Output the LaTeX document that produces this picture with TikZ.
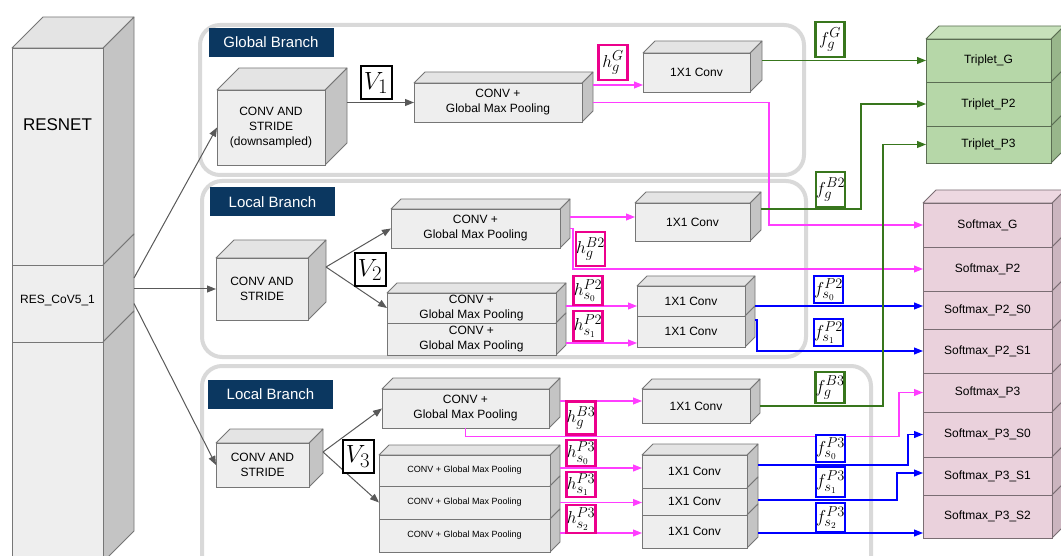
\documentclass[tikz,border=0pt]{standalone}
\usepackage[no-math]{fontspec}
\setmainfont{Liberation Sans}
\usepackage{tikz}
\usetikzlibrary{arrows.meta}
\usetikzlibrary{positioning}

% side face (and top face if #4 is not empty) of a box node
\newcommand{\cubefaces}[4]{%
  \draw[draw=#3!60!black, fill=#3, line width=0.8pt, line join=round] (#1.north east) -- ++(#2,-#2) -- ([shift={(#2,-#2)}]#1.south east) -- (#1.south east) -- cycle;
  \ifx\relax#4\relax\else
  \draw[draw=#3!60!black, fill=#4, line width=0.8pt, line join=round] (#1.north west) -- ++(#2,-#2) -- ([shift={(#2,-#2)}]#1.north east) -- (#1.north east) -- cycle;
  \fi}

\tikzset{
  cube/.style n args={4}{draw=#2!60!black, fill=#1, line width=0.8pt, inner sep=0pt, outer sep=0pt, align=center,
    font=\fontsize{12}{15}\selectfont,
    append after command={\pgfextra{\cubefaces{\tikzlastnode}{#4}{#2}{#3}}}},
  graycube/.style={cube={grayfront}{grayside}{graytop}{#1}},
  graycell/.style={cube={grayfront}{grayside}{}{#1}},
  greencube/.style={cube={greenfront}{greenside}{greentop}{#1}},
  greencell/.style={cube={greenfront}{greenside}{}{#1}},
  pinkcube/.style={cube={pinkfront}{pinkside}{pinktop}{#1}},
  pinkcell/.style={cube={pinkfront}{pinkside}{}{#1}},
  branch/.style={draw=branchgray, line width=4pt, rounded corners=20pt},
  tag/.style={fill=tagblue, text=white, inner sep=0pt, minimum width=125, minimum height=29, font=\fontsize{15}{15}\selectfont},
  grayarrow/.style={draw=linegray, line width=1pt, -{Triangle[length=9pt, width=7pt]}},
  pinkarrow/.style={draw=pinkline, line width=1.1pt, -{Triangle[length=9pt, width=7pt]}},
  greenarrow/.style={draw=greenline, line width=1.1pt, -{Triangle[length=9pt, width=7pt]}},
  bluearrow/.style={draw=blueline, line width=1.1pt, -{Triangle[length=9pt, width=7pt]}},
  hlabel/.style={draw=magenta, line width=2.4pt, fill=white, inner sep=0pt, minimum width=29, minimum height=29, font=\fontsize{19}{19}\selectfont},
  fgreen/.style={hlabel, draw=greenline},
  fblue/.style={hlabel, draw=blue},
  vlabel/.style={draw=black, line width=2pt, fill=white, inner sep=0pt, minimum width=31, minimum height=33, font=\fontsize{29}{29}\selectfont},
}

\begin{document}
\begin{tikzpicture}[x=1pt, y=-1pt]

    \definecolor{grayfront}{HTML}{EEEEEE}
    \definecolor{graytop}{HTML}{E4E4E4}
    \definecolor{grayside}{HTML}{C4C4C4}
    \definecolor{greenfront}{HTML}{B6D7A8}
    \definecolor{greentop}{HTML}{C7E1BB}
    \definecolor{greenside}{HTML}{98B68B}
    \definecolor{pinkfront}{HTML}{EAD1DC}
    \definecolor{pinktop}{HTML}{EDD8E1}
    \definecolor{pinkside}{HTML}{CBB5BF}
    \definecolor{branchgray}{HTML}{D9D9D9}
    \definecolor{tagblue}{HTML}{0B3760}
    \definecolor{linegray}{HTML}{595959}
    \definecolor{pinkline}{HTML}{FF3DFF}
    \definecolor{greenline}{HTML}{38761D}
    \definecolor{blueline}{HTML}{0000FF}

    \useasboundingbox (0,0) rectangle (1061,556);

    % branch frames
    \draw[branch] (200,25) rectangle (804,175);
    \draw[branch] (202,181) rectangle (806,357);
    \draw[branch] (202,366) rectangle (871,600);
    \node (gtag) [tag] at (271,42.5) {Global Branch};
    \node (ltag1) [tag] at (272.5,202) {Local Branch};
    \node (ltag2) [tag] at (270.5,394) {Local Branch};

    % backbone
    \node (resnet) [graycube=31, minimum width=91, minimum height=217] at (57.5,156.5) {};
    \node (rescov) [graycell=31, minimum width=91, minimum height=77, below=0pt of resnet, text depth=8pt] {RES\_CoV5\_1};
    \node (resbot) [graycell=31, minimum width=91, minimum height=220, below=0pt of rescov] {};
    \node (resname) [font=\fontsize{17}{17}\selectfont] at (57.5,125) {RESNET};

    % global branch
    \node (gconv) [graycube=22, minimum width=108, minimum height=75] at (271,127.5) {CONV AND\\STRIDE\\(downsampled)};
    \node (ggmp) [graycube=11, minimum width=168, minimum height=39] at (498,102.5) {CONV +\\Global Max Pooling};
    \node (gconv1) [graycube=12, minimum width=107, minimum height=39] at (696.5,72.5) {1X1 Conv};

    % local branch P2
    \node (p2conv) [graycube=18, minimum width=92, minimum height=62] at (262,289) {CONV AND\\STRIDE};
    \node (b2gmp) [graycube=10, minimum width=169, minimum height=39] at (475.5,228.5) {CONV +\\Global Max Pooling};
    \node (p2gmp0) [graycube=10, minimum width=169, minimum height=30] at (471.5,308) {CONV +\\Global Max Pooling};
    \node (p2gmp1) [graycell=10, minimum width=169, minimum height=32, below=0pt of p2gmp0] {CONV +\\Global Max Pooling};
    \node (b2conv1) [graycube=11, minimum width=115, minimum height=38] at (692.5,222) {1X1 Conv};
    \node (p2c0) [graycube=10, minimum width=108, minimum height=30] at (691,301) {1X1 Conv};
    \node (p2c1) [graycell=10, minimum width=108, minimum height=31, below=0pt of p2c0] {1X1 Conv};

    % local branch P3
    \node (p3conv) [graycube=14, minimum width=93, minimum height=44] at (262.5,465) {CONV AND\\STRIDE};
    \node (b3gmp) [graycube=11, minimum width=167, minimum height=39] at (465.5,408.5) {CONV +\\Global Max Pooling};
    \node (p3gmp0) [graycube=10, minimum width=171, minimum height=31, font=\fontsize{9}{9}\selectfont] at (464.5,470.5) {CONV + Global Max Pooling};
    \node (p3gmp1) [graycell=10, minimum width=171, minimum height=33, font=\fontsize{9}{9}\selectfont, below=0pt of p3gmp0] {CONV + Global Max Pooling};
    \node (p3gmp2) [graycell=10, minimum width=171, minimum height=33, font=\fontsize{9}{9}\selectfont, below=0pt of p3gmp1] {CONV + Global Max Pooling};
    \node (b3conv1) [graycube=10, minimum width=108, minimum height=34] at (696,406) {1X1 Conv};
    \node (p3c0) [graycube=11, minimum width=105, minimum height=33] at (694.5,471.5) {1X1 Conv};
    \node (p3c1) [graycell=11, minimum width=105, minimum height=27, below=0pt of p3c0] {1X1 Conv};
    \node (p3c2) [graycell=11, minimum width=105, minimum height=33, below=0pt of p3c1] {1X1 Conv};

    % losses
    \node (trG) [greencube=13, minimum width=125, minimum height=43] at (988.5,60.5) {Triplet\_G};
    \node (trP2) [greencell=13, minimum width=125, minimum height=44, below=0pt of trG] {Triplet\_P2};
    \node (trP3) [greencell=13, minimum width=125, minimum height=37, below=0pt of trP2] {Triplet\_P3};
    \node (smG) [pinkcube=13, minimum width=129, minimum height=44] at (987.5,225) {Softmax\_G};
    \node (smP2) [pinkcell=13, minimum width=129, minimum height=44, below=0pt of smG] {Softmax\_P2};
    \node (smP2s0) [pinkcell=13, minimum width=129, minimum height=38, below=0pt of smP2] {Softmax\_P2\_S0};
    \node (smP2s1) [pinkcell=13, minimum width=129, minimum height=44, below=0pt of smP2s0] {Softmax\_P2\_S1};
    \node (smP3) [pinkcell=13, minimum width=129, minimum height=39, below=0pt of smP2s1] {Softmax\_P3};
    \node (smP3s0) [pinkcell=13, minimum width=129, minimum height=45, below=0pt of smP3] {Softmax\_P3\_S0};
    \node (smP3s1) [pinkcell=13, minimum width=129, minimum height=38, below=0pt of smP3s0] {Softmax\_P3\_S1};
    \node (smP3s2) [pinkcell=13, minimum width=129, minimum height=43, below=0pt of smP3s1] {Softmax\_P3\_S2};

    % backbone to branches
    \draw[grayarrow] ([shift={(31,-25.5)}]rescov.east) -- (gconv.west);
    \draw[grayarrow] ([shift={(31,-14.5)}]rescov.east) -- (p2conv.west);
    \draw[grayarrow] ([shift={(31,0)}]rescov.east) -- (p3conv.west);

    \draw[grayarrow] ([shift={(22,-25)}]gconv.east) -- (ggmp.west);
    \draw[pinkarrow] ([shift={(11,-17.5)}]ggmp.east) -- ([shift={(0,12.5)}]gconv1.west);
    \draw[pinkarrow] ([shift={(11,0)}]ggmp.east) -- ++(176,0) |- (smG.west);
    \draw[greenarrow] ([shift={(12,-12)}]gconv1.east) -- (trG.west);

    \draw[grayarrow] ([shift={(18,-22)}]p2conv.east) -- (b2gmp.west);
    \draw[grayarrow] ([shift={(18,-22)}]p2conv.east) -- (p2gmp0.west);
    \draw[pinkarrow] ([shift={(10,-11.5)}]b2gmp.east) -- ([shift={(0,-5)}]b2conv1.west);
    \draw[pinkarrow] ([shift={(10,0)}]b2gmp.east) -- ++(3,0) |- (smP2.west);
    \draw[pinkarrow] ([shift={(10,-2)}]p2gmp0.east) -- ([shift={(0,5)}]p2c0.west);
    \draw[pinkarrow] ([shift={(10,4)}]p2gmp1.east) -- ([shift={(0,11.5)}]p2c1.west);
    \draw[greenarrow] ([shift={(11,-13)}]b2conv1.east) -- ++(100,0) |- (trP2.west);
    \draw[bluearrow] ([shift={(10,5)}]p2c0.east) -- ([shift={(0,-4)}]smP2s0.west);
    \draw[bluearrow] ([shift={(10,-11.5)}]p2c1.east) -- ++(2,0) |- (smP2s1.west);

    \draw[grayarrow] ([shift={(14,-13)}]p3conv.east) -- (b3gmp.west);
    \draw[grayarrow] ([shift={(14,-13)}]p3conv.east) -- (p3gmp1.west);
    \draw[pinkarrow] ([shift={(11,-7.5)}]b3gmp.east) -- ([shift={(0,-5)}]b3conv1.west);
    \draw[pinkarrow] (b3gmp.south) |- ([shift={(-24,44)}]smP3.west) |- (smP3.west);
    \draw[pinkarrow] ([shift={(10,-2.5)}]p3gmp0.east) -- ([shift={(0,-3.5)}]p3c0.west);
    \draw[pinkarrow] ([shift={(10,0)}]p3gmp1.east) -- ([shift={(0,1)}]p3c1.west);
    \draw[pinkarrow] ([shift={(10,-2.5)}]p3gmp2.east) -- ([shift={(0,1.5)}]p3c2.west);
    \draw[greenarrow] ([shift={(10,0)}]b3conv1.east) -- ++(123,0) |- (trP3.west);
    \draw[bluearrow] ([shift={(11,-6.5)}]p3c0.east) -- ++(150,0) |- (smP3s0.west);
    \draw[bluearrow] ([shift={(11,-1.5)}]p3c1.east) -- ++(139,0) |- ([shift={(0,-3)}]smP3s1.west);
    \draw[bluearrow] ([shift={(11,1.5)}]p3c2.east) -- ([shift={(0,16.5)}]smP3s2.west);

    % feature labels
    \node (vone) [vlabel] at (376,83) {$V_1$};
    \node (vtwo) [vlabel] at (370,270) {$V_2$};
    \node (vthree) [vlabel] at (358,456.5) {$V_3$};
    \node (hgG) [hlabel, minimum height=35] at (613,62.5) {$h_g^G$};
    \node (hB2) [hlabel, minimum height=34] at (590.5,249) {$h_g^{B2}$};
    \node (hP2s0) [hlabel] at (588,290.5) {$h_{s_0}^{P2}$};
    \node (hP2s1) [hlabel, minimum height=30] at (588,326) {$h_{s_1}^{P2}$};
    \node (hB3) [hlabel, minimum height=33] at (581,418) {$h_g^{B3}$};
    \node (hP3s0) [hlabel, minimum height=26] at (581,453) {$h_{s_0}^{P3}$};
    \node (hP3s1) [hlabel, minimum height=25] at (581,484.5) {$h_{s_1}^{P3}$};
    \node (hP3s2) [hlabel, minimum height=28] at (581,519) {$h_{s_2}^{P3}$};
    \node (fgG) [fgreen, minimum height=35] at (830,39.5) {$f_g^G$};
    \node (fB2) [fgreen, minimum height=35] at (830.5,189.5) {$f_g^{B2}$};
    \node (fB3) [fgreen, minimum height=31] at (830,387.5) {$f_g^{B3}$};
    \node (fP2s0) [fblue, minimum height=27] at (828.5,289.5) {$f_{s_0}^{P2}$};
    \node (fP2s1) [fblue, minimum height=27] at (828.5,332.5) {$f_{s_1}^{P2}$};
    \node (fP3s0) [fblue, minimum height=27] at (830.5,448.5) {$f_{s_0}^{P3}$};
    \node (fP3s1) [fblue, minimum height=30] at (830.5,482) {$f_{s_1}^{P3}$};
    \node (fP3s2) [fblue, minimum height=29] at (830.5,517.5) {$f_{s_2}^{P3}$};

\end{tikzpicture}
\end{document}
